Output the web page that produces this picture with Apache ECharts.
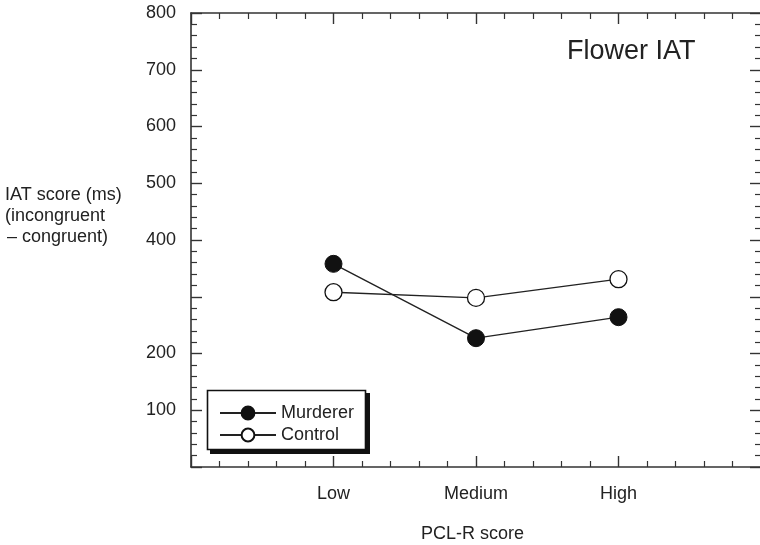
<!DOCTYPE html>
<html>
<head>
<meta charset="utf-8">
<script src="https://cdn.jsdelivr.net/npm/echarts@6/dist/echarts.min.js"></script>
<style>
html,body{margin:0;padding:0;background:#fff;}
#chart{width:760px;height:545px;}
</style>
</head>
<body>
<div id="chart"></div>
<script>
var categories = ['Low', 'Medium', 'High'];
var murderer = [358, 227, 264];
var control = [308, 298, 331];
var yTickLabels = [100, 200, 400, 500, 600, 700, 800];
var seriesNames = ['Murderer', 'Control'];

function toPoints(vals) {
  return vals.map(function (v, i) { return [i + 1, v]; });
}

var FONT = '"Liberation Sans", Arial, sans-serif';
var AX = '#333';

function xAxisCfg(pos, showLabel) {
  return {
    type: 'value', position: pos, min: 0, max: 4, interval: 1,
    axisLine: { show: true, onZero: false, lineStyle: { color: AX, width: 1.6 } },
    axisTick: { show: true, inside: true, length: 11, lineStyle: { color: AX, width: 1.4 } },
    minorTick: { show: true, splitNumber: 5, length: 6, lineStyle: { color: AX, width: 1.2 } },
    splitLine: { show: false },
    axisLabel: {
      show: showLabel, margin: 18, fontFamily: FONT, fontSize: 18, color: '#222',
      formatter: function (v) { return categories[v - 1] || ''; }
    }
  };
}
function yAxisCfg(pos, showLabel) {
  return {
    type: 'value', position: pos, min: 0, max: 800, interval: 100,
    axisLine: { show: true, onZero: false, lineStyle: { color: AX, width: 1.6 } },
    axisTick: { show: true, inside: true, length: 11, lineStyle: { color: AX, width: 1.4 } },
    minorTick: { show: true, splitNumber: 5, length: 6, lineStyle: { color: AX, width: 1.2 } },
    splitLine: { show: false },
    axisLabel: {
      show: showLabel, margin: 15, fontFamily: FONT, fontSize: 18, color: '#222',
      formatter: function (v) { return yTickLabels.indexOf(v) >= 0 ? String(v) : ''; }
    }
  };
}

var TXT = '18px "Liberation Sans", Arial, sans-serif';
var chart = echarts.init(document.getElementById('chart'));
chart.setOption({
  animation: false,
  backgroundColor: '#fff',
  grid: { left: 191, top: 13, width: 570, height: 454, containLabel: false, outerBoundsMode: 'none' },
  xAxis: [xAxisCfg('bottom', true), xAxisCfg('top', false)],
  yAxis: [yAxisCfg('left', true), yAxisCfg('right', false)],
  legend: {
    orient: 'vertical', left: 207, top: 391, z: 10,
    padding: [13, 14, 11, 12],
    itemWidth: 56, itemHeight: 16, itemGap: 4,
    textStyle: { fontFamily: FONT, fontSize: 18, lineHeight: 16, color: '#222' },
    data: seriesNames
  },
  graphic: [
    { type: 'rect', z: 5, shape: { x: 210, y: 393, width: 160, height: 61 }, style: { fill: '#111' } },
    { type: 'rect', z: 6, shape: { x: 207.5, y: 390.5, width: 158, height: 59 }, style: { fill: '#fff', stroke: '#111', lineWidth: 1.6 } },
    { type: 'text', left: 567, top: 38, style: { text: 'Flower IAT', font: '27px "Liberation Sans", Arial, sans-serif', fill: '#222' } },
    { type: 'text', left: 5, top: 186, style: { text: 'IAT score (ms)', font: TXT, fill: '#222' } },
    { type: 'text', left: 5, top: 207, style: { text: '(incongruent', font: TXT, fill: '#222' } },
    { type: 'text', left: 7, top: 228, style: { text: '– congruent)', font: TXT, fill: '#222' } },
    { type: 'text', left: 421, top: 525, style: { text: 'PCL-R score', font: TXT, fill: '#222' } }
  ],
  series: [
    {
      name: seriesNames[0], type: 'line', data: toPoints(murderer),
      symbol: 'circle', symbolSize: 17,
      lineStyle: { color: '#222', width: 1.4 },
      itemStyle: { color: '#111', borderColor: '#111', borderWidth: 1 }
    },
    {
      name: seriesNames[1], type: 'line', data: toPoints(control),
      symbol: 'circle', symbolSize: 17,
      lineStyle: { color: '#222', width: 1.4 },
      itemStyle: { color: '#fff', borderColor: '#111', borderWidth: 1.3 }
    }
  ]
});
</script>
</body>
</html>
